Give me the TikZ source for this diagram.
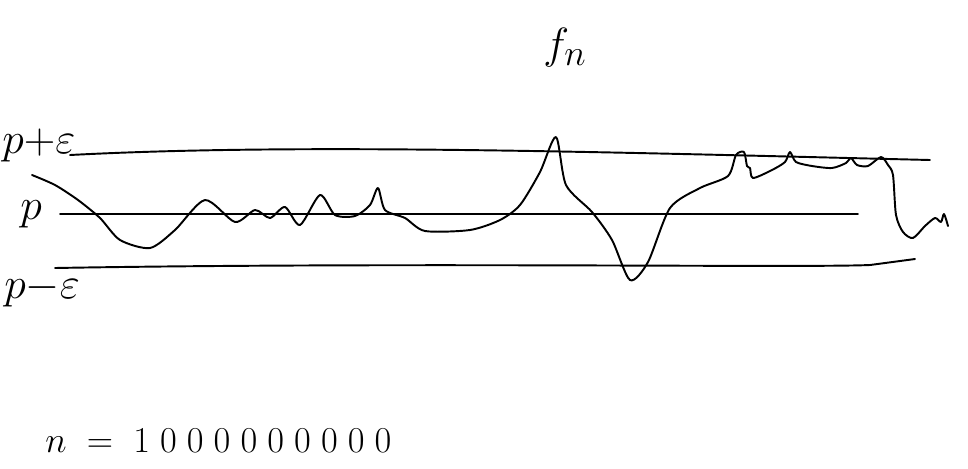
\documentclass[tikz,border=0pt]{standalone}
\usetikzlibrary{positioning}

\begin{document}
\begin{tikzpicture}[
        x=0.02cm, y=-0.02cm,
        pen/.style={line width=1.1pt, line cap=round, line join=round},
        lvl/.style={font=\fontsize{24}{28}\selectfont, inner sep=0pt, anchor=west},
        lbl/.style={font=\fontsize{20}{24}\selectfont, inner sep=0pt, anchor=west}
    ]
    \useasboundingbox (0,0) rectangle (968,468);

    % levels
    \coordinate (up0) at (70,155);
    \coordinate (up1) at (930,160);
    \coordinate (mid0) at (60,214);
    \coordinate (mid1) at (858,214);
    \coordinate (lo0) at (55,268);
    \coordinate (lo1) at (915,259);

    \draw[pen] (up0) .. controls (300,143) and (600,152) .. (up1);
    \draw[pen] (mid0) -- (mid1);
    \draw[pen] (lo0) .. controls (400,262) and (800,268) .. (870,265) -- (lo1);

    \node[lvl] (pe) at (2,145) {$p{+}\varepsilon$};
    \node[lvl] (p) at (20,214) {$p$};
    \node[lvl] (me) at (4,290) {$p{-}\varepsilon$};
    \node[font=\fontsize{30}{34}\selectfont] (fn) at (565,48) {$f_n$};

    % the sequence
    \draw[pen] plot[smooth, tension=0.45] coordinates {
        (32,175) (55,185) (78,200) (100,218) (120,240) (150,248)
        (175,230) (205,200) (235,222) (255,210) (270,218) (285,207)
        (300,225) (320,195) (335,215) (355,216) (370,205) (378,188)
        (385,210) (405,218) (425,231) (470,230) (500,220) (520,205)
        (540,172) (556,137) (566,185) (592,212) (612,240) (630,280)
        (648,262) (670,208) (700,188) (728,176) (736,155) (744,152)
        (747,166) (750,168) (753,178) (772,170) (785,162) (790,152)
        (796,162) (812,166) (832,168) (846,163) (851,158) (857,165)
        (868,166) (881,157) (888,165) (893,175) (896,215) (903,232)
        (913,238) (925,226) (935,218) (941,222) (944,214) (948,226)};

    \node[lbl] (n) at (45,441) {$n \;=\; 1\;0\;0\;0\;0\;0\;0\;0\;0\;0$};
\end{tikzpicture}
\end{document}
